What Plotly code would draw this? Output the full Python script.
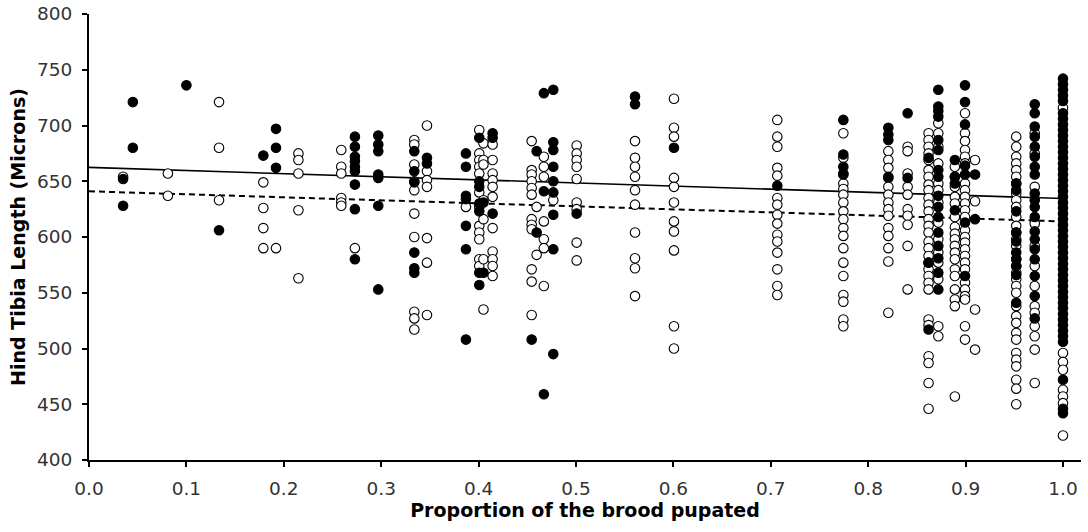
import plotly.graph_objects as go

# Column x positions (proportion of the brood pupated)
col_x = [0.035, 0.045, 0.081, 0.100, 0.1335, 0.179, 0.192, 0.215, 0.259, 0.273,
         0.297, 0.334, 0.347, 0.387, 0.4007, 0.405, 0.4144, 0.4545, 0.4596, 0.467,
         0.4767, 0.5007, 0.5606, 0.6006, 0.7067, 0.7745, 0.8207, 0.8405, 0.862, 0.872,
         0.889, 0.8994, 0.9097, 0.952, 0.971, 1.0]

# Open-circle values (microns) per column
open_vals = [
    [654], [], [657, 637], [], [721, 680, 633],
    [649, 626, 608, 590], [590], [675, 669, 657, 624, 563],
    [678, 663, 657, 635, 631, 628], [590],
    [], [687, 683, 665, 650, 642, 621, 600, 533, 527, 517],
    [700, 659, 651, 645, 599, 577, 530], [627],
    [696, 675, 669, 663, 657, 640, 627, 610, 604, 598, 580, 574],
    [684, 669, 665, 633, 616, 580, 535],
    [683, 669, 657, 651, 645, 636, 608, 587, 580, 574, 565],
    [686, 660, 656, 650, 644, 638, 616, 611, 607, 571, 560, 530],
    [627, 584], [672, 663, 654, 614, 598, 590, 556], [633],
    [682, 675, 669, 663, 652, 631, 625, 595, 579],
    [686, 671, 663, 654, 642, 629, 604, 581, 572, 547],
    [724, 698, 690, 653, 645, 631, 614, 605, 588, 520, 500],
    [705, 690, 681, 662, 655, 635, 629, 620, 612, 602, 596, 586, 571, 556, 548],
    [693, 671, 657, 648, 643, 638, 631, 623, 616, 608, 601, 590, 577, 565, 548, 542, 526, 520],
    [677, 669, 662, 653, 645, 638, 631, 625, 619, 608, 601, 590, 578, 532],
    [681, 677, 657, 645, 638, 625, 619, 611, 592, 553],
    [693, 687, 681, 675, 669, 660, 654, 647, 642, 635, 629, 623, 616, 610, 604, 596, 590,
     583, 577, 571, 565, 559, 553, 526, 521, 493, 487, 469, 446],
    [702, 693, 681, 666, 648, 642, 631, 613, 598, 586, 577, 562, 520, 511],
    [663, 654, 645, 636, 630, 618, 609, 603, 598, 592, 586, 580, 571, 565, 553, 544, 538, 457],
    [711, 693, 686, 678, 672, 666, 648, 642, 636, 630, 624, 618, 606, 600, 595, 589, 583,
     577, 571, 559, 553, 547, 544, 520, 508],
    [669, 632, 535, 499],
    [690, 681, 672, 666, 660, 654, 648, 639, 633, 627, 618, 610, 604, 598, 592, 580, 574,
     568, 562, 556, 550, 538, 529, 523, 514, 508, 496, 490, 484, 472, 464, 450],
    [693, 675, 645, 612, 592, 574, 556, 538, 532, 520, 511, 499, 469],
    [716, 496, 488, 481, 463, 457, 451, 422],
]

# Filled-circle values (microns) per column
filled_vals = [
    [652, 628], [721, 680], [], [736], [606],
    [673], [697, 680, 662], [],
    [], [690, 681, 672, 668, 663, 659, 647, 625, 580],
    [691, 683, 677, 656, 653, 628, 553], [677, 659, 649, 586, 572, 568],
    [671, 666], [675, 663, 637, 634, 610, 589, 508],
    [689, 650, 645, 630, 623, 568, 557],
    [631, 568],
    [693, 689, 621],
    [508],
    [677, 604], [729, 641, 459], [732, 685, 678, 663, 650, 640, 620, 589, 495],
    [621],
    [726, 719],
    [680],
    [646],
    [705, 674, 663, 656],
    [698, 692, 687, 654],
    [711, 653],
    [671, 577, 517],
    [732, 717, 713, 708, 687, 678, 660, 654, 637, 627, 618, 604, 592, 581, 568, 553],
    [669, 654, 648, 624],
    [736, 721, 701, 664, 656, 613, 565],
    [656, 616],
    [648, 642, 623, 604, 596, 586, 580, 574, 566, 541],
    [719, 711, 699, 690, 681, 672, 663, 656, 639, 633, 627, 618, 605, 598, 589, 580, 565, 547, 527],
    [742, 737, 732, 727, 722, 711, 706, 701, 696, 691, 686, 681, 676, 671, 666, 661, 656,
     651, 646, 641, 636, 631, 626, 621, 616, 611, 606, 601, 596, 591, 586, 581, 576, 571,
     566, 561, 556, 551, 546, 541, 536, 531, 526, 521, 516, 511, 506, 472, 446, 442],
]

# Trend lines (end points)
trend_x = [0.0, 1.0]
trend_solid_y = [662.4, 634.5]
trend_dashed_y = [641.0, 614.0]

x_ticks = [0.0, 0.1, 0.2, 0.3, 0.4, 0.5, 0.6, 0.7, 0.8, 0.9, 1.0]
x_tick_text = ["0.0", "0.1", "0.2", "0.3", "0.4", "0.5", "0.6", "0.7", "0.8", "0.9", "1.0"]
y_ticks = [400, 450, 500, 550, 600, 650, 700, 750, 800]

ox, oy, fx, fy = [], [], [], []
for x, vals in zip(col_x, open_vals):
    for v in vals:
        ox.append(x)
        oy.append(v)
for x, vals in zip(col_x, filled_vals):
    for v in vals:
        fx.append(x)
        fy.append(v)

fig = go.Figure()
fig.add_trace(go.Scatter(x=trend_x, y=trend_solid_y, mode="lines",
                         line=dict(color="black", width=1.6), showlegend=False))
fig.add_trace(go.Scatter(x=trend_x, y=trend_dashed_y, mode="lines",
                         line=dict(color="black", width=2, dash="6px,4px"), showlegend=False))
fig.add_trace(go.Scatter(x=ox, y=oy, mode="markers", showlegend=False,
                         marker=dict(size=9.5, color="white", line=dict(color="black", width=1.1))))
fig.add_trace(go.Scatter(x=fx, y=fy, mode="markers", showlegend=False,
                         marker=dict(size=9.5, color="black", line=dict(color="black", width=1.1))))

font_family = "DejaVu Sans, Verdana, sans-serif"
fig.update_layout(
    width=1088, height=532,
    margin=dict(l=89, r=7, t=14, b=72),
    plot_bgcolor="white", paper_bgcolor="white",
    font=dict(family=font_family, color="#333333", size=18),
    xaxis=dict(range=[0, 1.0185], tickvals=x_ticks, ticktext=x_tick_text,
               showgrid=False, zeroline=False, showline=True, linecolor="black", linewidth=2,
               ticks="outside", ticklen=5, tickwidth=2, tickcolor="black",
               ticklabelstandoff=6, automargin=False,
               tickfont=dict(size=18.5, color="#333333"),
               title=dict(text="<b>Proportion of the brood pupated</b>",
                          font=dict(size=19, color="black"), standoff=2)),
    yaxis=dict(range=[400, 800], tickvals=y_ticks,
               showgrid=False, zeroline=False, showline=True, linecolor="black", linewidth=2,
               ticks="outside", ticklen=5, tickwidth=2, tickcolor="black",
               ticklabelstandoff=6, automargin=False,
               tickfont=dict(size=18.5, color="#333333"),
               title=dict(text="<b>Hind Tibia Length (Microns)</b>",
                          font=dict(size=19, color="black"), standoff=6)),
)

fig.write_html("out.html")
